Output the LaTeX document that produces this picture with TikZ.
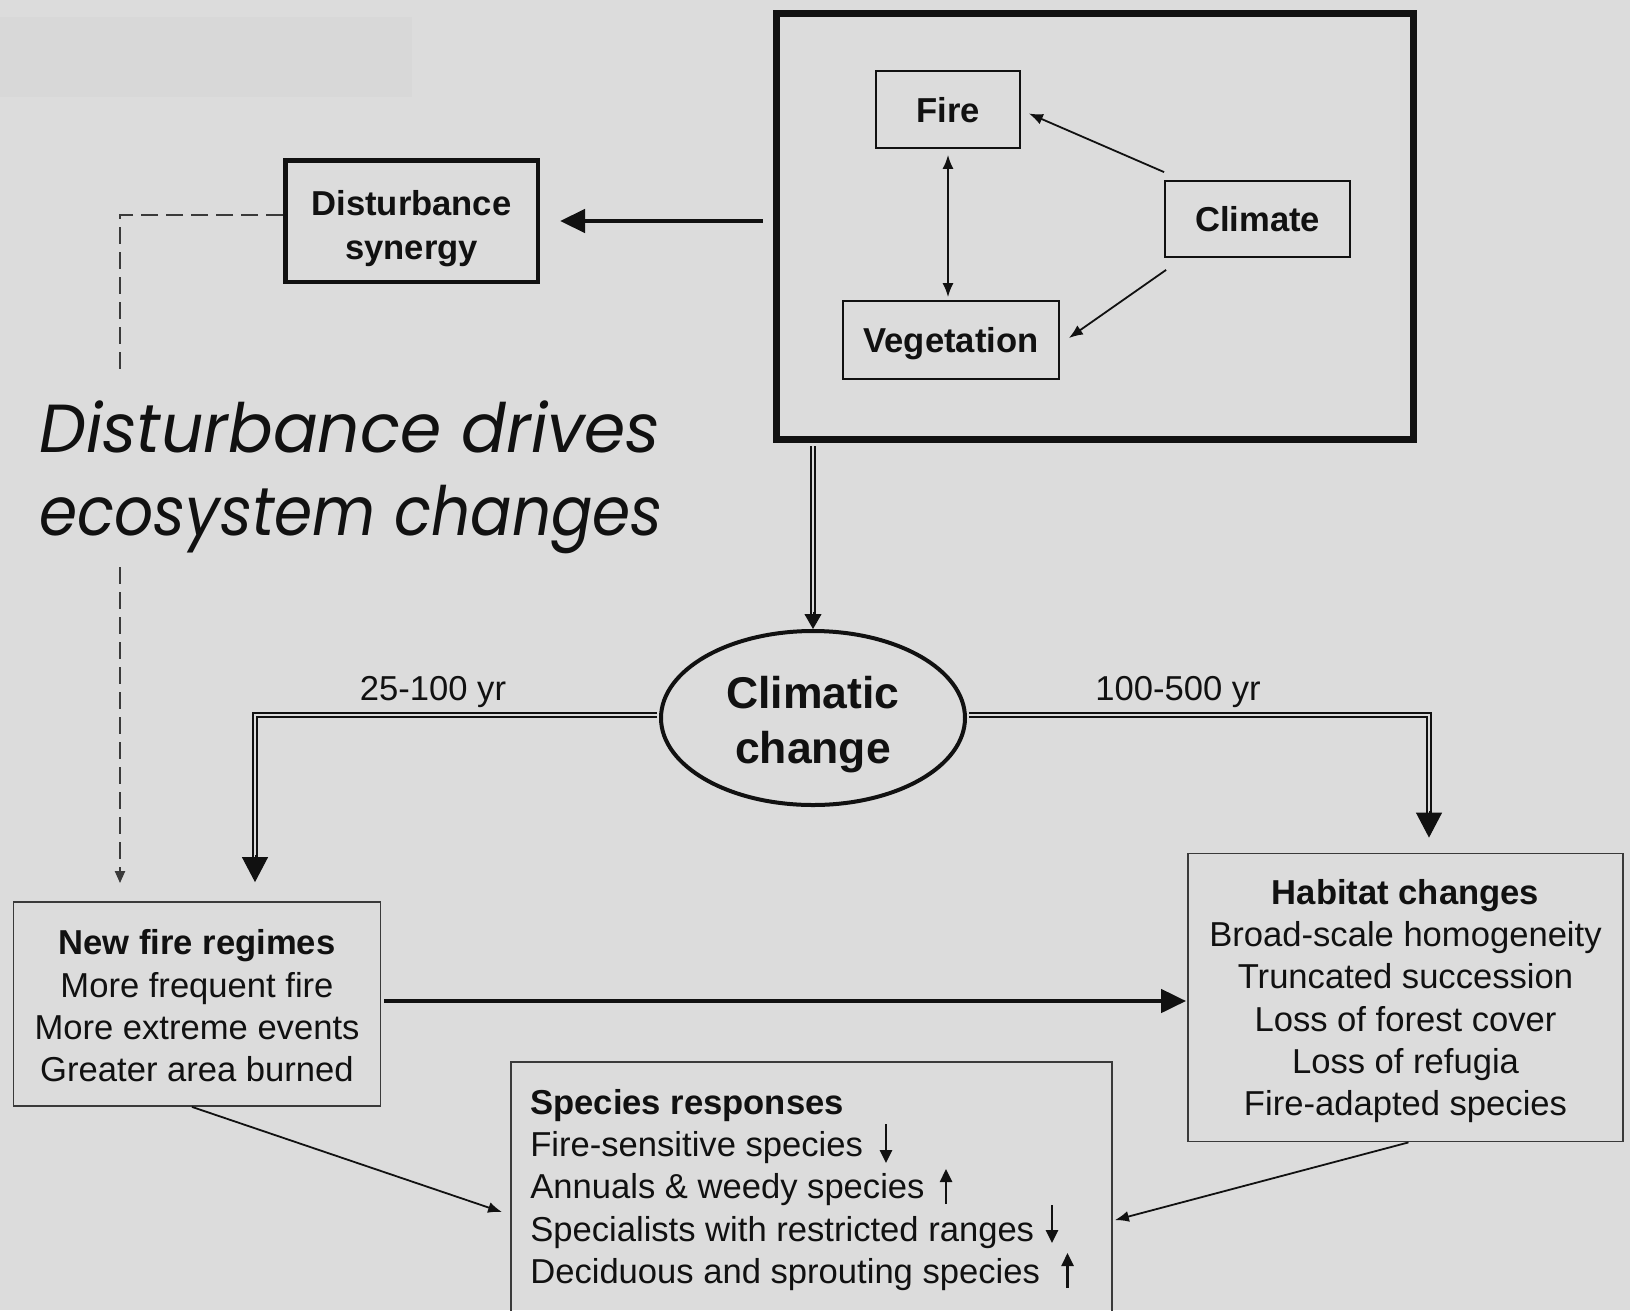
\documentclass[tikz,border=0pt]{standalone}
\usepackage{fontspec}
\setmainfont{Liberation Sans}
\newfontfamily\handfont{Poppins}
\usetikzlibrary{arrows.meta,shapes.geometric,calc}
\definecolor{bg}{HTML}{DCDCDC}
\definecolor{band}{HTML}{D8D8D8}
\definecolor{ink}{HTML}{111111}
\definecolor{rule}{HTML}{3A3A3A}

\begin{document}
\begin{tikzpicture}[x=1pt,y=-1pt,
  every node/.style={inner sep=0pt, text=ink},
  body/.style={font=\fontsize{34.6}{42.3}\selectfont},
  thinbox/.style={rectangle, draw=rule, line width=1.8pt, body},
  keybox/.style={rectangle, draw=ink, line width=1.8pt, text depth=0pt,
    font=\fontsize{34.6}{42.3}\selectfont\bfseries},
  synbox/.style={rectangle, draw=ink, line width=4.5pt, align=center,
    text height=76pt, text depth=0pt,
    font=\fontsize{34.6}{43.5}\selectfont\bfseries},
  framebox/.style={rectangle, draw=ink, line width=7pt},
  climbox/.style={ellipse, draw=ink, line width=4pt, align=center,
    text height=91pt, text depth=0pt,
    font=\fontsize{44.5}{55}\selectfont\bfseries},
  spanlabel/.style={body, text depth=0pt},
  handtext/.style={font=\handfont\itshape\fontsize{68}{83}\selectfont, anchor=base west},
  thinarrow/.style={draw=ink, line width=1.8pt, -{Latex[length=14pt,width=11pt]}},
  thickarrow/.style={draw=ink, line width=4.5pt, -{Triangle[length=25pt,width=23pt]}},
  trend/.style={draw=ink, line width=2.6pt, -{Triangle[length=13pt,width=12pt]}},
  dashline/.style={draw=rule, line width=2pt, dash pattern=on 17pt off 8pt},
  dbl/.style={draw=ink, line width=1.7pt, double=bg, double distance=2.8pt},
  tipbig/.style={draw=ink, line width=1pt, -{Triangle[length=25pt,width=26pt]}},
  tipsmall/.style={draw=ink, line width=1pt, -{Triangle[length=15pt,width=17pt]}}
]
\useasboundingbox (0,0) rectangle (1630,1310);
\clip (0,0) rectangle (1630,1310);
\fill[bg] (0,0) rectangle (1630,1310);
\fill[band] (0,17) rectangle (412,97);

% feedback frame: fire, vegetation and climate
\node[framebox, minimum width=637pt, minimum height=426pt] (frame) at (1095,226) {};
\node[keybox, minimum width=144pt, minimum height=77pt] (fire) at (948,109.5) {Fire};
\node[keybox, minimum width=185pt, minimum height=76pt] (climate) at (1257.5,219) {Climate};
\node[keybox, minimum width=216pt, minimum height=78pt] (veg) at (951,340) {Vegetation};

\draw[thinarrow] ([yshift=8pt]climate.north west) -- ([xshift=8pt,yshift=-4pt]fire.east);
\draw[thinarrow] ([xshift=2pt,yshift=-12pt]climate.south west) -- ([xshift=9pt,yshift=2pt]veg.east);
\draw[thinarrow, {Latex[length=14pt,width=11pt]}-{Latex[length=14pt,width=11pt]},
  shorten <=6pt, shorten >=3pt] (fire.south) -- (fire.south |- veg.north);

% disturbance synergy
\node[synbox, minimum width=252.5pt, minimum height=121.5pt] (dist) at (411.5,221) {Disturbance\\synergy};
\draw[thickarrow, shorten <=10.5pt, shorten >=20pt] (frame.west |- dist.east) -- (dist.east);

% climatic change
\node[climbox, minimum width=304pt, minimum height=174pt] (cc) at (813,718) {Climatic\\change};
\draw[dbl, shorten <=3.5pt] (cc.north |- frame.south) -- ([yshift=14pt]cc.north);
\draw[tipsmall] ([yshift=17pt]cc.north) -- (cc.north);

% outcome boxes
\node[thinbox, align=center, text height=155.7pt, text depth=0pt,
  minimum width=367pt, minimum height=204pt] (nfr) at (197,1004)
  {\textbf{New fire regimes}\\More frequent fire\\More extreme events\\Greater area burned};
\node[thinbox, align=center, text depth=0pt, minimum width=435pt, minimum height=288pt] (hab) at (1405.5,997.5)
  {\textbf{Habitat changes}\\Broad-scale homogeneity\\Truncated succession\\Loss of forest cover\\Loss of refugia\\Fire-adapted species};
\node[thinbox, minimum width=601pt, minimum height=280pt] (sp) at (811.5,1202) {};
\node[body, align=left, anchor=north west] (sptext) at ([xshift=20pt,yshift=-28pt]sp.north west)
  {\textbf{Species responses}\\Fire-sensitive species\\Annuals \& weedy species\\Specialists with restricted ranges\\Deciduous and sprouting species};
% rise / decline marks after the species lines
\draw[trend] (886,1124) -- (886,1163);
\draw[trend] (946,1204) -- (946,1169);
\draw[trend] (1052,1205) -- (1052,1243);
\draw[trend] (1067.5,1288) -- (1067.5,1253);

% time-scale branches
\coordinate (lturn) at (255,715);
\coordinate (rturn) at (1429,715);
\path (lturn |- nfr.north) ++(0,-19) coordinate (ltip);
\path (rturn |- hab.north) ++(0,-15) coordinate (rtip);
\draw[dbl, shorten <=2pt] ([yshift=3pt]cc.west) -- (lturn) -- ([yshift=24pt]ltip);
\draw[tipbig] ([yshift=27pt]ltip) -- (ltip);
\draw[dbl, shorten <=2pt] ([yshift=3pt]cc.east) -- (rturn) -- ([yshift=24pt]rtip);
\draw[tipbig] ([yshift=27pt]rtip) -- (rtip);
\node[spanlabel] (short) at (433,688) {25-100 yr};
\node[spanlabel] (long) at (1178,688) {100-500 yr};

% disturbance pathway
\node[handtext] (drive1) at (39,452) {\scalebox{0.975}[1]{Disturbance drives}};
\node[handtext] (drive2) at (39,535) {\scalebox{0.902}[1]{ecosystem changes}};
\coordinate (dturn) at (120,215);
\coordinate (dbreak1) at (120,371);
\coordinate (dbreak2) at (120,567);
\draw[dashline] ([yshift=6pt]dist.west) -- (dturn) -- (dbreak1);
\draw[dashline, -{Triangle[length=12pt,width=10pt]}, shorten >=18pt] (dbreak2) -- (dbreak2 |- nfr.north);

% links between outcomes
\draw[thickarrow, shorten <=3pt, shorten >=1pt] ([yshift=3pt]nfr.east) -- ([yshift=3pt]nfr.east -| hab.west);
\draw[thinarrow] ([xshift=-5pt]nfr.south) -- ([xshift=-8pt,yshift=-151pt]sp.north west);
\draw[thinarrow] ([xshift=3pt]hab.south) -- ([xshift=2pt,yshift=-159pt]sp.north east);
\end{tikzpicture}
\end{document}
